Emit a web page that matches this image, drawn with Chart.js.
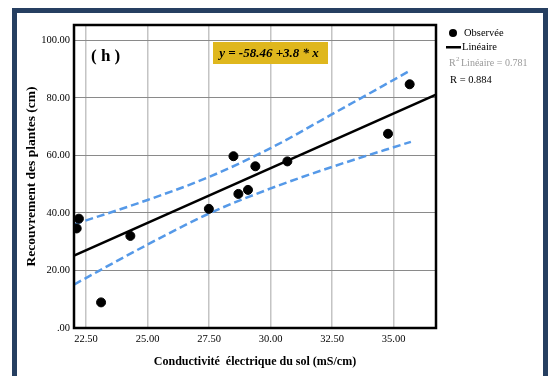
<!DOCTYPE html>
<html>
<head>
<meta charset="utf-8">
<script src="https://cdn.jsdelivr.net/npm/chart.js@4/dist/chart.umd.min.js"></script>
<style>
  html, body { margin: 0; padding: 0; background: #fff; }
  #wrap { position: relative; width: 548px; height: 376px; }
</style>
</head>
<body>
<div id="wrap"><canvas id="chart" width="548" height="376"></canvas></div>
<script>
// observed points
const conductivite = [22.12, 22.21, 23.11, 24.30, 27.49, 28.49, 28.69, 29.08, 29.38, 30.68, 34.77, 35.65];
const recouvrement = [34.6, 38.0, 8.9, 32.0, 41.4, 59.7, 46.6, 48.0, 56.2, 57.9, 67.5, 84.7];

// fitted line y = a + b * x
const intercept = -58.46;
const slope = 3.8;
const xRange = [22.01, 36.72];

// 95% band around the mean
const bandX = [22.01, 25, 27.5, 30, 32.5, 35.7];
const bandUpper = [36.0, 44.5, 52.5, 62.5, 74.3, 89.6];
const bandLower = [15.1, 29.0, 39.8, 48.5, 56.0, 64.7];

const xTicks = [22.5, 25, 27.5, 30, 32.5, 35];
const yTicks = [0, 20, 40, 60, 80, 100];

const serif = '"Liberation Serif", "DejaVu Serif", serif';
const navy = '#263f61';
const bandBlue = '#5599e8';

const toPts = (xs, ys) => xs.map((x, i) => ({ x, y: ys[i] }));
const fmt = (v) => v.toFixed(2).replace(/^0\./, '.');

const decor = {
    id: 'decor',
    beforeDraw(chart) {
        const ctx = chart.ctx;
        ctx.save();
        ctx.fillStyle = navy;
        ctx.fillRect(12, 8, 536, 5);
        ctx.fillRect(12, 8, 5, 368);
        ctx.fillRect(543, 8, 5, 368);
        ctx.restore();
    },
    afterDraw(chart) {
        const { ctx, chartArea: a } = chart;
        ctx.save();
        // plot frame
        ctx.strokeStyle = '#000';
        ctx.lineWidth = 2.5;
        ctx.strokeRect(a.left, a.top, a.right - a.left, a.bottom - a.top);

        // panel tag
        ctx.fillStyle = '#000';
        ctx.font = 'bold 17px ' + serif;
        ctx.textBaseline = 'middle';
        ctx.textAlign = 'left';
        ctx.fillText('( h )', 91, 57);

        // equation box
        ctx.fillStyle = '#dfb71d';
        ctx.fillRect(213, 42, 115, 22);
        ctx.fillStyle = '#000';
        ctx.font = 'bold italic 13px ' + serif;
        ctx.textAlign = 'center';
        ctx.fillText('y = -58.46 +3.8 * x', 269, 53.5);

        // legend
        ctx.textAlign = 'left';
        ctx.font = '10.5px ' + serif;
        ctx.beginPath();
        ctx.arc(453, 33, 4, 0, Math.PI * 2);
        ctx.fill();
        ctx.fillText('Observée', 464, 33);
        ctx.fillRect(446, 46, 15, 2.5);
        ctx.fillText('Linéaire', 462, 47);
        ctx.fillStyle = '#9a9a9a';
        ctx.font = '10px ' + serif;
        ctx.fillText('R', 449, 63);
        ctx.font = '7px ' + serif;
        ctx.fillText('2', 456, 59);
        ctx.font = '10px ' + serif;
        ctx.fillText('Linéaire = 0.781', 461, 63);
        ctx.fillStyle = '#000';
        ctx.font = '10.5px ' + serif;
        ctx.fillText('R = 0.884', 450, 80);
        ctx.restore();
    }
};

new Chart(document.getElementById('chart'), {
    type: 'scatter',
    data: {
        datasets: [
            {
                label: 'Observée',
                data: toPts(conductivite, recouvrement),
                backgroundColor: '#000',
                borderColor: '#000',
                pointRadius: 4.5,
                order: 0
            },
            {
                label: 'Linéaire',
                data: xRange.map(x => ({ x, y: intercept + slope * x })),
                showLine: true,
                borderColor: '#000',
                borderWidth: 2.5,
                pointRadius: 0,
                order: 1
            },
            {
                label: 'haut',
                data: toPts(bandX, bandUpper),
                showLine: true,
                borderColor: bandBlue,
                borderWidth: 2.5,
                borderDash: [8, 4],
                cubicInterpolationMode: 'monotone',
                pointRadius: 0,
                order: 2
            },
            {
                label: 'bas',
                data: toPts(bandX, bandLower),
                showLine: true,
                borderColor: bandBlue,
                borderWidth: 2.5,
                borderDash: [8, 4],
                cubicInterpolationMode: 'monotone',
                pointRadius: 0,
                order: 2
            }
        ]
    },
    options: {
        responsive: false,
        animation: false,
        layout: { padding: { left: 22, top: 25, right: 112, bottom: 0 } },
        plugins: {
            legend: { display: false },
            tooltip: { enabled: false }
        },
        scales: {
            x: {
                type: 'linear',
                min: xRange[0],
                max: xRange[1],
                afterBuildTicks: (s) => { s.ticks = xTicks.map(value => ({ value })); },
                afterFit: (s) => { s.height = 48; },
                border: { display: false },
                grid: { color: '#c4c4c4', lineWidth: 1.5, drawTicks: false },
                ticks: {
                    padding: 5,
                    color: '#000',
                    font: { family: serif, size: 10.5 },
                    maxRotation: 0,
                    callback: (v) => fmt(v)
                },
                title: {
                    display: true,
                    text: 'Conductivité  électrique du sol (mS/cm)',
                    color: '#000',
                    font: { family: serif, size: 12, weight: 'bold' },
                    padding: { top: 0, bottom: 7 }
                }
            },
            y: {
                min: 0,
                max: 105.3,
                afterBuildTicks: (s) => { s.ticks = yTicks.map(value => ({ value })); },
                afterFit: (s) => { s.width = 52; },
                border: { display: false },
                grid: { color: '#8a8a8a', lineWidth: 1, drawTicks: false },
                ticks: {
                    padding: 4,
                    color: '#000',
                    font: { family: serif, size: 10.5 },
                    callback: (v) => fmt(v)
                },
                title: {
                    display: true,
                    text: 'Recouvrement des plantes (cm)',
                    color: '#000',
                    font: { family: serif, size: 13.5, weight: 'bold' },
                    padding: { top: 1, bottom: 0 }
                }
            }
        }
    },
    plugins: [decor]
});
</script>
</body>
</html>
